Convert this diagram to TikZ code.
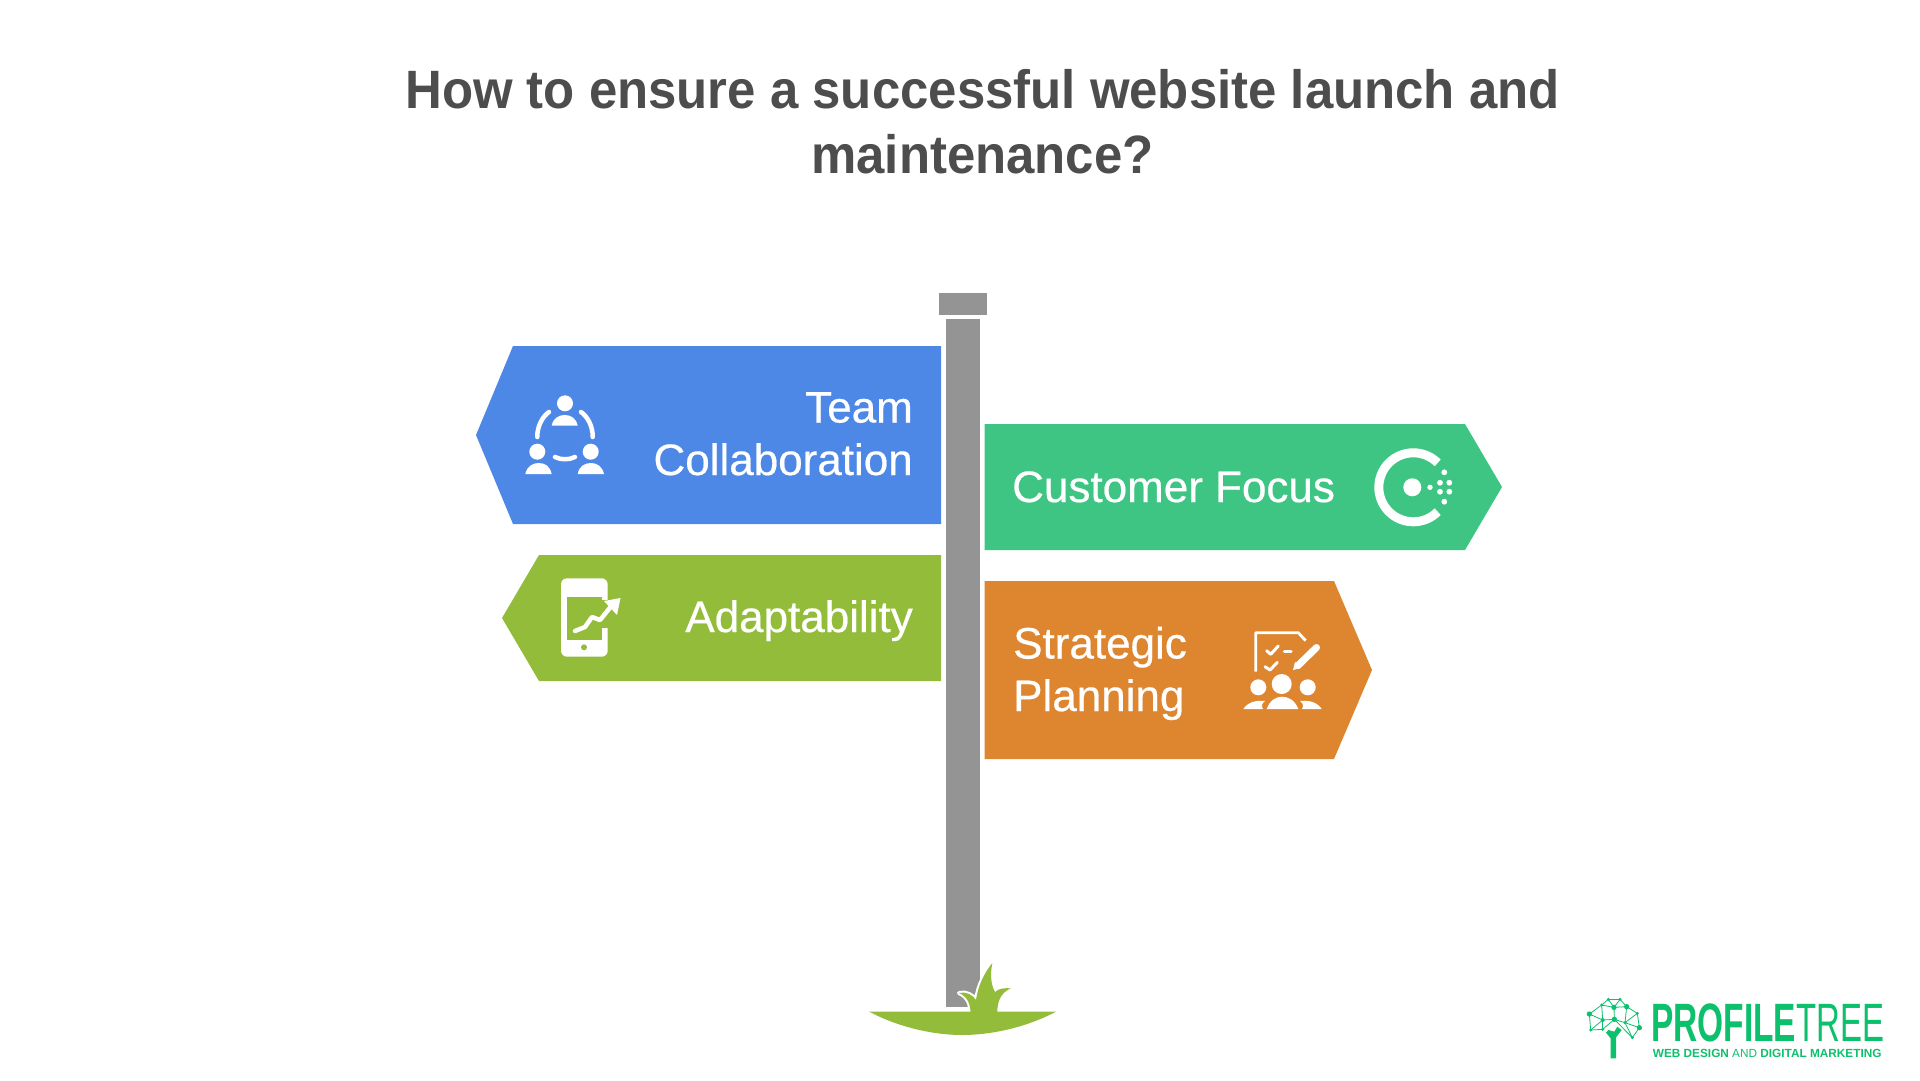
\documentclass[tikz,border=0pt]{standalone}
\usepackage{fontspec}
\setmainfont{Liberation Sans}
\newfontfamily\signfont[FakeBold=0.5]{Liberation Sans}
\usetikzlibrary{calc}
\definecolor{signblue}{HTML}{4E88E6}
\definecolor{signgreen}{HTML}{93BC3A}
\definecolor{signteal}{HTML}{3FC583}
\definecolor{signorange}{HTML}{DE8530}
\definecolor{postgray}{HTML}{949494}
\definecolor{titlegray}{HTML}{4D4D4D}
\definecolor{logogreen}{HTML}{0CC06C}
\tikzset{
    titletext/.style={text=titlegray,font=\fontsize{54}{65}\selectfont\bfseries,align=center,inner sep=0pt,xscale=0.943},
    signtext/.style={text=white,font=\fontsize{44}{52.5}\selectfont\signfont,inner sep=0pt},
    iconline/.style={draw=white,line width=4.5,line cap=round,line join=round},
    netline/.style={draw=logogreen,line width=0.8},
}
\begin{document}
\begin{tikzpicture}[x=1pt,y=-1pt]
        \useasboundingbox (0,0) rectangle (1920,1080);

        \node[titletext] (title) at (982.5,122) {How to ensure a successful website launch and\\maintenance?};

        \fill[postgray] (939,293) rectangle (987,315);
        \fill[postgray] (946,319) rectangle (980,1007);

        \fill[signblue] (941,346)--(513,346)--(476,435)--(513,524)--(941,524)--cycle;
        \fill[signgreen] (941,555)--(539,555)--(502,618)--(539,681)--(941,681)--cycle;
        \fill[signteal] (984.5,424)--(1465,424)--(1502,487)--(1465,550)--(984.5,550)--cycle;
        \fill[signorange] (984.5,581)--(1334,581)--(1372,670)--(1334,759)--(984.5,759)--cycle;

        \node[signtext,align=right,anchor=base east] (team) at (913,475) {Team\\Collaboration};
        \node[signtext,anchor=base east] (adapt) at (913,632) {Adaptability};
        \node[signtext,anchor=base west] (customer) at (1012,502) {Customer Focus};
        \node[signtext,align=left,anchor=base west] (strategic) at (1013,711) {Strategic\\Planning};

        % people in a ring
        \fill[white] (565,403.3) circle (8);
        \fill[white] (537.3,451.7) circle (8);
        \fill[white] (590.7,451.7) circle (8);
        \fill[white] (551.7,425.7) .. controls (553,418) and (559,415) .. (564.7,415) .. controls (571,415) and (576,418) .. (577.7,425.7)--cycle;
        \fill[white] (525.3,474) .. controls (527,466) and (533,463) .. (538.5,463) .. controls (545,463) and (550,466) .. (551.7,474)--cycle;
        \fill[white] (577.7,474) .. controls (579,466) and (585,463) .. (590.8,463) .. controls (597,463) and (602,466) .. (604,474)--cycle;
        \draw[iconline] (537.3,437) .. controls (537,426) and (543,416) .. (549,412);
        \draw[iconline] (592.7,437) .. controls (593,426) and (587,416) .. (581,412);
        \draw[iconline] (555,457) .. controls (561,460) and (569,460) .. (575,457);

        % phone with chart
        \fill[white,rounded corners=6] (561,578.3) rectangle (607.7,656.7);
        \fill[signgreen] (567.3,596.7) rectangle (601.7,640);
        \fill[signgreen] (600,600) rectangle (609,628);
        \fill[signgreen] (584,647.3) circle (3);
        \draw[iconline] (575,631) -- (585,627) -- (592,617) -- (600,620) -- (613,604);
        \fill[white] (604,601) -- (620.5,598) -- (617,615) -- cycle;

        % ring with dots
        \draw[draw=white,line width=9] (1437.7,462.9) arc[start angle=-45,end angle=-315,radius=34.5];
        \fill[white] (1412.3,487.3) circle (9);
        \fill[white] (1430,487.3) circle (2.7);
        \foreach \px/\py in {1444.3/472.3,1444.3/501.7,1440/482.7,1449.3/482.7,1440/491.7,1449.3/491.7}
            \fill[white] (\px,\py) circle (2.9);

        % checklist and team
        \draw[iconline,line width=2.8,line cap=butt] (1255.7,671.7)--(1255.7,632.7)--(1298.3,632.7)--(1305.7,640.7);
        \draw[iconline,line width=3] (1266.7,650.7)--(1270.7,654.3)--(1278.3,646);
        \draw[iconline,line width=3] (1265,666.7)--(1270,670)--(1277.3,662.3);
        \draw[iconline,line width=3] (1284.3,651.7)--(1291,651.7);
        \draw[iconline,line width=7] (1298,665.5)--(1316.5,647.5);
        \fill[white] (1293,670) -- (1295,662) -- (1301,668) -- cycle;
        \fill[white] (1281.7,684) circle (10);
        \fill[white] (1258.3,687.3) circle (8);
        \fill[white] (1307.7,687.3) circle (8);
        \fill[white] (1266.7,709) .. controls (1270,700) and (1276,696.7) .. (1282,696.7) .. controls (1288,696.7) and (1295,700) .. (1298.3,709)--cycle;
        \fill[white] (1243.3,709) .. controls (1248,702) and (1256,700) .. (1265,701) .. controls (1262,703) and (1261,706) .. (1263,709)--cycle;
        \fill[white] (1321.7,709) .. controls (1317,702) and (1309,700) .. (1300,701) .. controls (1303,703) and (1304,706) .. (1302,709)--cycle;

        % ground and grass
        \path[fill=signgreen,preaction={draw=white,line width=4,line join=round}] (970.7,1013) .. controls (970,1004) and (968,997) .. (959,993)
            .. controls (966,991) and (973,995) .. (976,1000)
            .. controls (978,985) and (985,972) .. (992.3,963)
            .. controls (990,975) and (991,985) .. (995,992)
            .. controls (999,988) and (1005,988) .. (1011,988.3)
            .. controls (1002,992) and (997,1000) .. (997.3,1013);
        \fill[signgreen] (869.3,1011.7) .. controls (900,1028) and (935,1035) .. (962,1035) .. controls (990,1035) and (1025,1028) .. (1056,1011.7)--cycle;

        % logo
        \begin{scope}[shift={(1580,980)},x=1/3,y=-1/3]
            \coordinate (n1) at (85,58);
            \coordinate (n2) at (120,58);
            \coordinate (n3) at (65,75);
            \coordinate (n4) at (102,82);
            \coordinate (n5) at (140,80);
            \coordinate (n6) at (28,102);
            \coordinate (n7) at (172,100);
            \coordinate (n8) at (68,120);
            \coordinate (n9) at (103,118);
            \coordinate (n10) at (135,128);
            \coordinate (n11) at (178,143);
            \coordinate (n12) at (32,150);
            \coordinate (n13) at (68,148);
            \coordinate (n14) at (157,173);
            \foreach \a/\b in {n1/n2,n1/n3,n1/n4,n2/n4,n2/n5,n3/n6,n3/n4,n3/n8,n4/n5,n4/n9,n5/n7,n5/n10,n6/n8,n6/n12,n7/n10,n7/n11,n8/n9,n8/n12,n8/n13,n9/n10,n9/n13,n10/n11,n10/n14,n11/n14,n12/n13,n9/n14}
                \draw[netline] (\a)--(\b);
            \foreach \n/\r in {n1/5,n2/5,n3/5,n4/8,n5/8,n6/8,n7/5,n8/6,n9/8,n10/5,n11/8,n12/5,n13/5,n14/5}
                \fill[logogreen] (\n) circle (\r);
            \fill[logogreen] (92,235)--(108,235)--(108,172)--(125,150)--(112,140)--(103,155)--(85,150)--(78,158)--(92,175)--cycle;
        \end{scope}
        \node[text=logogreen,anchor=base west,inner sep=0pt,font=\fontsize{54}{54}\selectfont] (logoname) at (1651,1041)
            {\scalebox{0.62}[1]{\bfseries PROFILE}\scalebox{0.61}[1]{TREE}};
        \node[text=logogreen,anchor=base west,inner sep=0pt,font=\fontsize{11.8}{12}\selectfont] (logosub) at (1652.7,1057.7)
            {\textbf{WEB DESIGN} AND \textbf{DIGITAL MARKETING}};
    \end{tikzpicture}
\end{document}
